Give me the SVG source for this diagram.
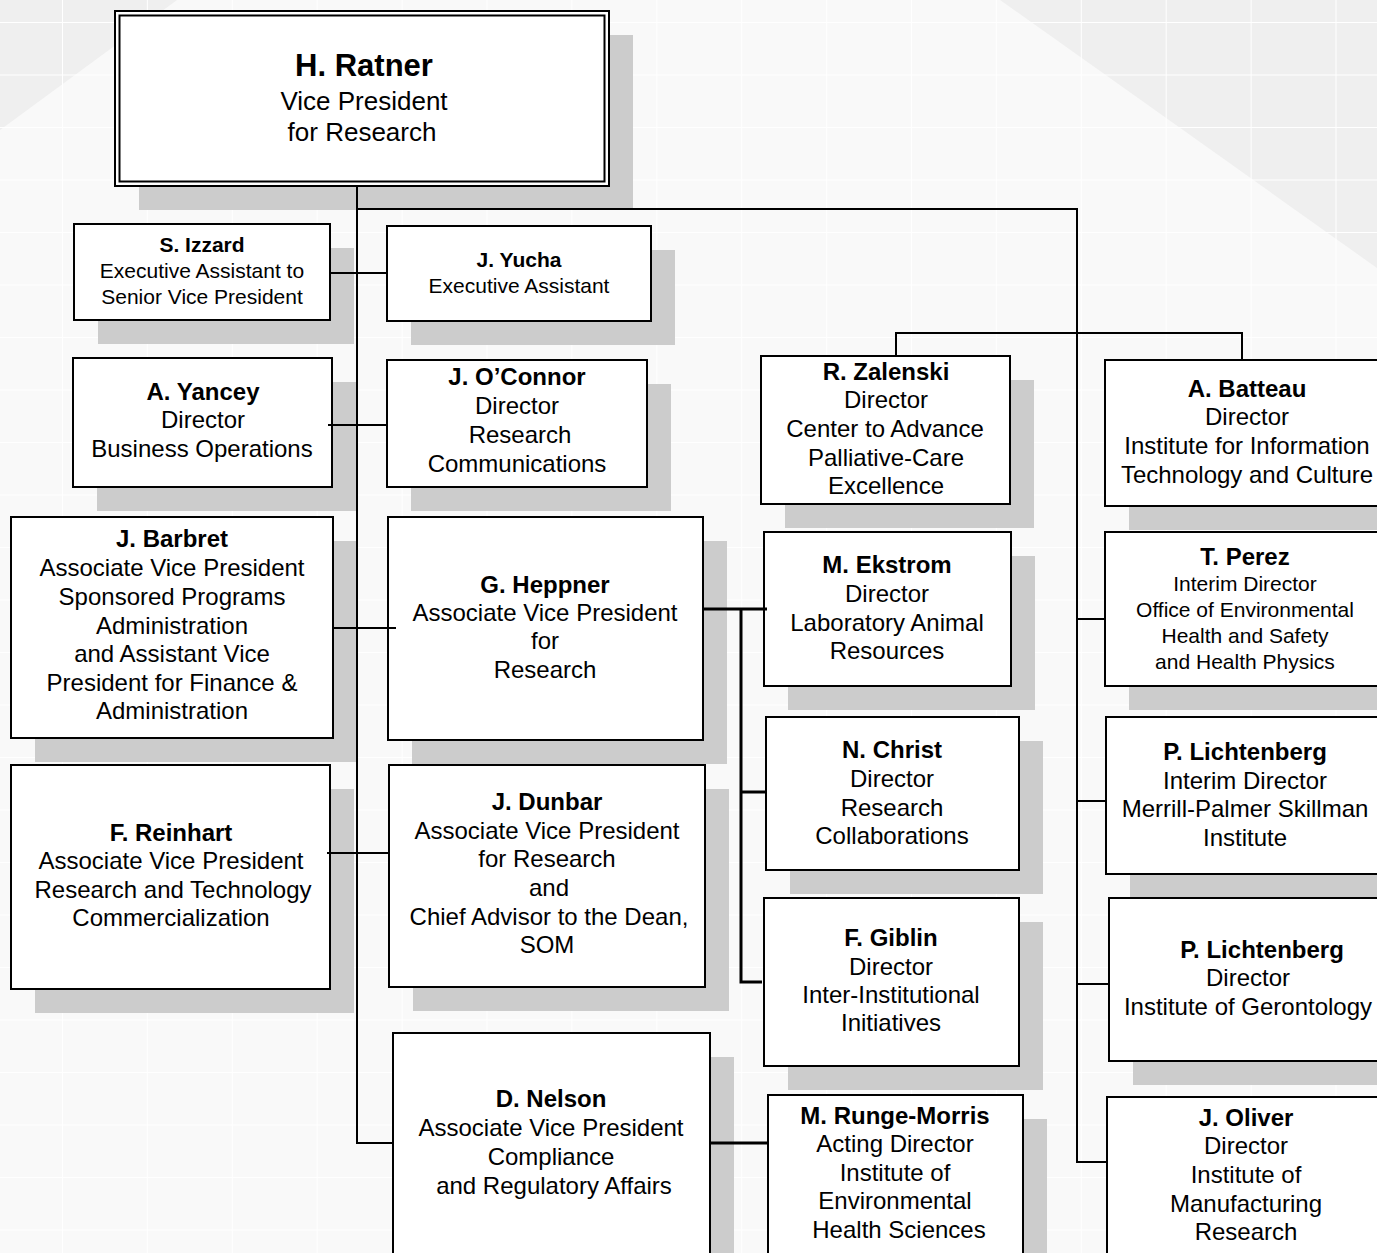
<svg xmlns="http://www.w3.org/2000/svg" width="1377" height="1253" viewBox="0 0 1377 1253">
<defs>
<style>
.sh{fill:#cccccc}
.bx{fill:#ffffff;stroke:#000;stroke-width:2}
.ln{stroke:#000;stroke-width:2;fill:none}
.lt{stroke:#000;stroke-width:3;fill:none}
text{font-family:"Liberation Sans",Arial,sans-serif;text-anchor:middle;fill:#000}
.n{font-size:24px;font-weight:bold}
.t{font-size:24px}
.ns{font-size:21px;font-weight:bold}
.ts{font-size:21px}
.nl{font-size:31px;font-weight:bold}
.tl{font-size:26px}
</style>
<pattern id="grid" x="62" y="22" width="84.9" height="52.5" patternUnits="userSpaceOnUse">
<path d="M0 0V52.5M0 0H84.9" stroke="#ffffff" stroke-width="2" fill="none"/>
</pattern>
</defs>
<g id="background">
<rect x="0" y="0" width="1377" height="1253" fill="#f9f9f9"/>
<polygon points="0,0 177,0 0,130" fill="#efefef"/>
<polygon points="1000,0 1377,0 1377,268" fill="#efefef"/>
<rect x="0" y="0" width="1377" height="1253" fill="url(#grid)"/>
</g>

<g id="n-ratner">
<rect class="sh" x="139" y="35" width="494" height="175"/>
<rect x="115" y="11" width="494" height="175" fill="#fff" stroke="#000" stroke-width="2"/>
<rect x="119.5" y="15.5" width="485" height="166" fill="none" stroke="#000" stroke-width="2"/>
<text class="nl" x="364" y="76">H. Ratner</text>
<text class="tl" x="364" y="110">Vice President</text>
<text class="tl" x="362" y="141">for Research</text>
</g>

<g id="n-izzard">
<rect class="sh" x="98" y="248" width="256" height="96"/>
<rect class="bx" x="74" y="224" width="256" height="96"/>
<text class="ns" x="202" y="252">S. Izzard</text>
<text class="ts" x="202" y="278">Executive Assistant to</text>
<text class="ts" x="202" y="304">Senior Vice President</text>
</g>

<g id="n-yucha">
<rect class="sh" x="411" y="250" width="264" height="95"/>
<rect class="bx" x="387" y="226" width="264" height="95"/>
<text class="ns" x="519" y="267">J. Yucha</text>
<text class="ts" x="519" y="293">Executive Assistant</text>
</g>

<g id="n-yancey">
<rect class="sh" x="97" y="382" width="259" height="129"/>
<rect class="bx" x="73" y="358" width="259" height="129"/>
<text class="n" x="203" y="400">A. Yancey</text>
<text class="t" x="203" y="428">Director</text>
<text class="t" x="202" y="457">Business Operations</text>
</g>

<g id="n-oconnor">
<rect class="sh" x="411" y="384" width="260" height="127"/>
<rect class="bx" x="387" y="360" width="260" height="127"/>
<text class="n" x="517" y="385">J. O’Connor</text>
<text class="t" x="517" y="414">Director</text>
<text class="t" x="520" y="443">Research</text>
<text class="t" x="517" y="472">Communications</text>
</g>

<g id="n-barbret">
<rect class="sh" x="35" y="541" width="322" height="221"/>
<rect class="bx" x="11" y="517" width="322" height="221"/>
<text class="n" x="172" y="547">J. Barbret</text>
<text class="t" x="172" y="576">Associate Vice President</text>
<text class="t" x="172" y="605">Sponsored Programs</text>
<text class="t" x="172" y="634">Administration</text>
<text class="t" x="172" y="662">and Assistant Vice</text>
<text class="t" x="172" y="691">President for Finance &amp;</text>
<text class="t" x="172" y="719">Administration</text>
</g>

<g id="n-heppner">
<rect class="sh" x="412" y="541" width="315" height="223"/>
<rect class="bx" x="388" y="517" width="315" height="223"/>
<text class="n" x="545" y="593">G. Heppner</text>
<text class="t" x="545" y="621">Associate Vice President</text>
<text class="t" x="545" y="649">for</text>
<text class="t" x="545" y="678">Research</text>
</g>

<g id="n-reinhart">
<rect class="sh" x="35" y="789" width="319" height="224"/>
<rect class="bx" x="11" y="765" width="319" height="224"/>
<text class="n" x="171" y="841">F. Reinhart</text>
<text class="t" x="171" y="869">Associate Vice President</text>
<text class="t" x="173" y="898">Research and Technology</text>
<text class="t" x="171" y="926">Commercialization</text>
</g>

<g id="n-dunbar">
<rect class="sh" x="413" y="789" width="316" height="222"/>
<rect class="bx" x="389" y="765" width="316" height="222"/>
<text class="n" x="547" y="810">J. Dunbar</text>
<text class="t" x="547" y="839">Associate Vice President</text>
<text class="t" x="547" y="867">for Research</text>
<text class="t" x="549" y="896">and</text>
<text class="t" x="549" y="925">Chief Advisor to the Dean,</text>
<text class="t" x="547" y="953">SOM</text>
</g>

<g id="n-nelson">
<rect class="sh" x="417" y="1057" width="317" height="230"/>
<rect class="bx" x="393" y="1033" width="317" height="230"/>
<text class="n" x="551" y="1107">D. Nelson</text>
<text class="t" x="551" y="1136">Associate Vice President</text>
<text class="t" x="551" y="1165">Compliance</text>
<text class="t" x="554" y="1194">and Regulatory Affairs</text>
</g>

<g id="n-zalenski">
<rect class="sh" x="785" y="380" width="249" height="148"/>
<rect class="bx" x="761" y="356" width="249" height="148"/>
<text class="n" x="886" y="380">R. Zalenski</text>
<text class="t" x="886" y="408">Director</text>
<text class="t" x="885" y="437">Center to Advance</text>
<text class="t" x="886" y="466">Palliative-Care</text>
<text class="t" x="886" y="494">Excellence</text>
</g>

<g id="n-batteau">
<rect class="sh" x="1129" y="384" width="290" height="146"/>
<rect class="bx" x="1105" y="360" width="290" height="146"/>
<text class="n" x="1247" y="397">A. Batteau</text>
<text class="t" x="1247" y="425">Director</text>
<text class="t" x="1247" y="454">Institute for Information</text>
<text class="t" x="1247" y="483">Technology and Culture</text>
</g>

<g id="n-ekstrom">
<rect class="sh" x="788" y="556" width="247" height="154"/>
<rect class="bx" x="764" y="532" width="247" height="154"/>
<text class="n" x="887" y="573">M. Ekstrom</text>
<text class="t" x="887" y="602">Director</text>
<text class="t" x="887" y="631">Laboratory Animal</text>
<text class="t" x="887" y="659">Resources</text>
</g>

<g id="n-perez">
<rect class="sh" x="1129" y="556" width="290" height="154"/>
<rect class="bx" x="1105" y="532" width="290" height="154"/>
<text class="n" x="1245" y="565">T. Perez</text>
<text class="ts" x="1245" y="591">Interim Director</text>
<text class="ts" x="1245" y="617">Office of Environmental</text>
<text class="ts" x="1245" y="643">Health and Safety</text>
<text class="ts" x="1245" y="669">and Health Physics</text>
</g>

<g id="n-christ">
<rect class="sh" x="790" y="741" width="253" height="153"/>
<rect class="bx" x="766" y="717" width="253" height="153"/>
<text class="n" x="892" y="758">N. Christ</text>
<text class="t" x="892" y="787">Director</text>
<text class="t" x="892" y="816">Research</text>
<text class="t" x="892" y="844">Collaborations</text>
</g>

<g id="n-lichtenberg1">
<rect class="sh" x="1130" y="741" width="290" height="157"/>
<rect class="bx" x="1106" y="717" width="290" height="157"/>
<text class="n" x="1245" y="760">P. Lichtenberg</text>
<text class="t" x="1245" y="789">Interim Director</text>
<text class="t" x="1245" y="817">Merrill-Palmer Skillman</text>
<text class="t" x="1245" y="846">Institute</text>
</g>

<g id="n-giblin">
<rect class="sh" x="788" y="922" width="255" height="168"/>
<rect class="bx" x="764" y="898" width="255" height="168"/>
<text class="n" x="891" y="946">F. Giblin</text>
<text class="t" x="891" y="975">Director</text>
<text class="t" x="891" y="1003">Inter-Institutional</text>
<text class="t" x="891" y="1031">Initiatives</text>
</g>

<g id="n-lichtenberg2">
<rect class="sh" x="1133" y="922" width="290" height="163"/>
<rect class="bx" x="1109" y="898" width="290" height="163"/>
<text class="n" x="1262" y="958">P. Lichtenberg</text>
<text class="t" x="1248" y="986">Director</text>
<text class="t" x="1248" y="1015">Institute of Gerontology</text>
</g>

<g id="n-rungemorris">
<rect class="sh" x="792" y="1119" width="255" height="170"/>
<rect class="bx" x="768" y="1095" width="255" height="170"/>
<text class="n" x="895" y="1124">M. Runge-Morris</text>
<text class="t" x="895" y="1152">Acting Director</text>
<text class="t" x="895" y="1181">Institute of</text>
<text class="t" x="895" y="1209">Environmental</text>
<text class="t" x="899" y="1238">Health Sciences</text>
</g>

<g id="n-oliver">
<rect class="sh" x="1131" y="1121" width="290" height="170"/>
<rect class="bx" x="1107" y="1097" width="290" height="170"/>
<text class="n" x="1246" y="1126">J. Oliver</text>
<text class="t" x="1246" y="1154">Director</text>
<text class="t" x="1246" y="1183">Institute of</text>
<text class="t" x="1246" y="1212">Manufacturing</text>
<text class="t" x="1246" y="1240">Research</text>
</g>

<g id="connectors">
<path class="ln" d="M357 186V1143H393"/>
<path class="ln" d="M357 209H1077V1162H1107"/>
<path class="ln" d="M896 356V333H1242V360"/>
<path class="ln" d="M1077 619H1105"/>
<path class="ln" d="M1077 801H1106"/>
<path class="ln" d="M1077 984H1109"/>
<path class="ln" d="M330 273H388"/>
<path class="ln" d="M328 425H387"/>
<path class="ln" d="M332 628H396"/>
<path class="ln" d="M327 853H389"/>
<path class="lt" d="M703 609H767"/>
<path class="lt" d="M741 609V982H762"/>
<path class="lt" d="M741 792H766"/>
<path class="lt" d="M710 1143H768"/>
</g>
</svg>
